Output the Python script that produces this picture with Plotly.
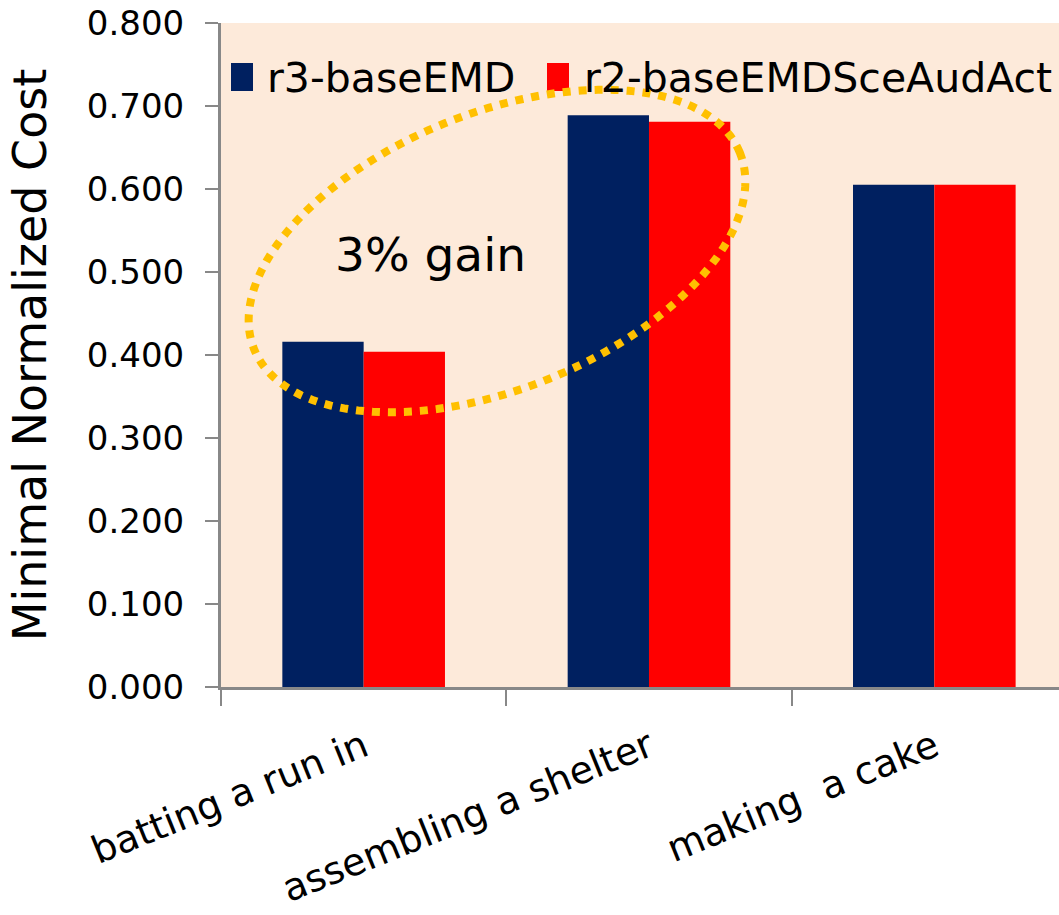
import numpy as np
import plotly.graph_objects as go

# Data
activities = ["batting a run in", "assembling a shelter", "making\u00a0 a cake"]
series_names = ["r3-baseEMD", "r2-baseEMDSceAudAct"]
r3_base = [0.416, 0.689, 0.605]
r2_sce_aud_act = [0.404, 0.681, 0.605]
y_ticks = [0.0, 0.1, 0.2, 0.3, 0.4, 0.5, 0.6, 0.7, 0.8]
gain_label = "3% gain"

colors = ["#002060", "#FF0000"]
bg = "#FDEADA"
axis_grey = "#888888"
font = "DejaVu Sans"

W, H = 1059, 915
ML, MR, MT, MB = 221, 0, 23, 228
PW, PH = W - ML - MR, H - MT - MB


def px_x(px):
    return (px - ML) / PW


def px_y(py):
    return (H - MB - py) / PH


fig = go.Figure()
for name, vals, col in zip(series_names, [r3_base, r2_sce_aud_act], colors):
    fig.add_trace(go.Bar(x=activities, y=vals, name=name, marker_color=col,
                         marker_line_width=0, showlegend=False))

shapes = []
annotations = []

# Legend entries drawn as large swatches with text
legend_items = [(231, 253, 265), (547, 569, 582)]
for (x0, x1, tx), name, col in zip(legend_items, series_names, colors):
    shapes.append(dict(type="rect", xref="paper", yref="paper",
                       x0=px_x(x0), x1=px_x(x1), y0=px_y(91), y1=px_y(63),
                       fillcolor=col, line_width=0, layer="above"))
    annotations.append(dict(text=name, xref="paper", yref="paper",
                            x=px_x(tx), y=px_y(78), xanchor="left", yanchor="middle",
                            showarrow=False, font=dict(family=font, size=41, color="black")))

# Dotted ellipse around the first two groups
cx, cy, a, b, th = 497, 251, 262, 138, np.deg2rad(22)
t = np.linspace(0, 2 * np.pi, 181)
ex = cx + a * np.cos(t) * np.cos(th) - b * np.sin(t) * np.sin(th)
ey = cy - (a * np.cos(t) * np.sin(th) + b * np.sin(t) * np.cos(th))
path = "M " + " L ".join(f"{px_x(u):.5f},{px_y(v):.5f}" for u, v in zip(ex, ey)) + " Z"
shapes.append(dict(type="path", xref="paper", yref="paper", path=path,
                   line=dict(color="#FFC000", width=8, dash="8px,8px"), layer="above"))

annotations.append(dict(text=gain_label, xref="paper", yref="paper",
                        x=px_x(430), y=px_y(254), xanchor="center", yanchor="middle",
                        showarrow=False, font=dict(family=font, size=47, color="black")))

fig.update_layout(
    width=W, height=H,
    margin=dict(l=ML, r=MR, t=MT, b=MB, autoexpand=False),
    paper_bgcolor="white", plot_bgcolor=bg,
    barmode="group", bargap=0.43, bargroupgap=0,
    font=dict(family=font, color="black"),
    shapes=shapes, annotations=annotations,
    xaxis=dict(range=[-0.5, 2.437], showgrid=False, zeroline=False,
               showline=True, linecolor=axis_grey, linewidth=3,
               ticks="outside", tickson="boundaries", ticklen=16, tickwidth=2,
               tickcolor=axis_grey, tickangle=-22, ticklabelstandoff=20,
               tickfont=dict(family=font, size=38, color="black"), automargin=False),
    yaxis=dict(range=[0, 0.8], tickvals=y_ticks, tickformat=".3f", showgrid=False,
               zeroline=False, showline=True, linecolor=axis_grey, linewidth=3,
               ticks="outside", ticklen=13, tickwidth=2, tickcolor=axis_grey,
               ticklabelstandoff=14,
               tickfont=dict(family=font, size=34, color="black"), automargin=False,
               title=dict(text="Minimal Normalized Cost", standoff=26,
                          font=dict(family=font, size=46, color="black"))),
)

fig.write_html("out.html")
